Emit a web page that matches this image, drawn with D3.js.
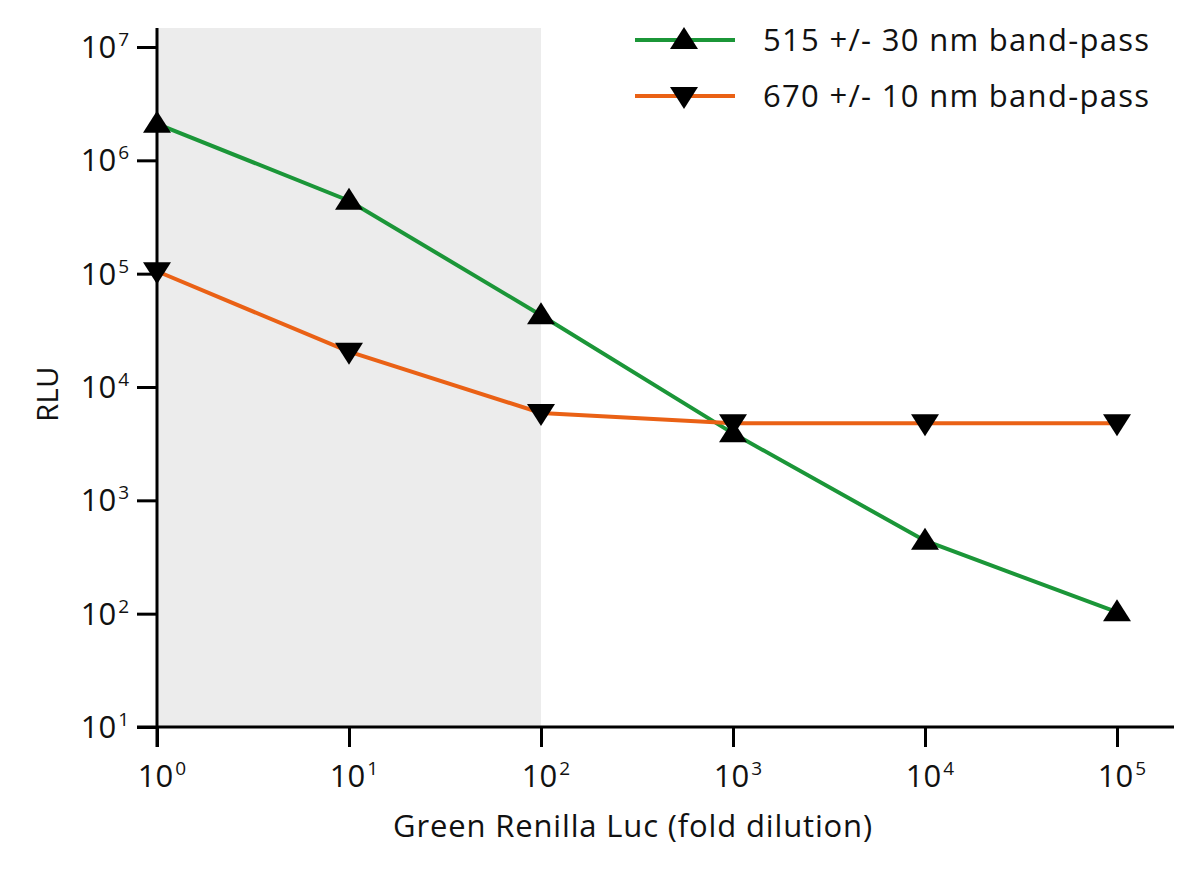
<!DOCTYPE html>
<html><head><meta charset="utf-8">
<script src="https://cdn.jsdelivr.net/npm/d3@7"></script>
<style>body{margin:0;background:#fff}svg{display:block}text{font-family:"Open Sans",Lato,sans-serif;fill:#111}</style>
</head><body>
<svg id="c" width="1200" height="871"></svg>
<script>
const dilution = [1, 10, 100, 1000, 10000, 100000];
const green515 = [2.1e6, 4.4e5, 4.3e4, 3.9e3, 4.4e2, 1.03e2];
const orange670 = [1.05e5, 2.05e4, 5.9e3, 4.8e3, 4.8e3, 4.8e3];
const xTickExp = [0, 1, 2, 3, 4, 5];
const yTickExp = [1, 2, 3, 4, 5, 6, 7];
const seriesNames = ["515 +/- 30 nm band-pass", "670 +/- 10 nm band-pass"];
const shadedRange = [1, 100];

const svg = d3.select("#c");
const x = d3.scaleLog().domain([1, 1e5]).range([157, 1117]);
const y = d3.scaleLog().domain([10, 1e7]).range([727, 47]);
const plotTop = 28, xEnd = 1174;

// shaded region
svg.append("rect").attr("x", x(shadedRange[0])).attr("y", plotTop)
  .attr("width", x(shadedRange[1]) - x(shadedRange[0])).attr("height", y(10) - plotTop)
  .attr("fill", "#ececec");

// axes
const gy = svg.append("g").attr("transform", `translate(${x(1)},0)`)
  .call(d3.axisLeft(y).tickValues(yTickExp.map(e => Math.pow(10, e))).tickSize(20).tickSizeOuter(0).tickFormat(""));
gy.select(".domain").remove();
gy.selectAll(".tick line").attr("stroke", "#000").attr("stroke-width", 3);
svg.append("line").attr("x1", x(1)).attr("x2", x(1)).attr("y1", plotTop).attr("y2", y(10) + 20)
  .attr("stroke", "#000").attr("stroke-width", 3);

const gx = svg.append("g").attr("transform", `translate(0,${y(10)})`)
  .call(d3.axisBottom(x).tickValues(xTickExp.map(e => Math.pow(10, e))).tickSize(20).tickSizeOuter(0).tickFormat(""));
gx.select(".domain").remove();
gx.selectAll(".tick line").attr("stroke", "#000").attr("stroke-width", 3);
svg.append("line").attr("x1", x(1) - 20).attr("x2", xEnd).attr("y1", y(10)).attr("y2", y(10))
  .attr("stroke", "#000").attr("stroke-width", 3);

// tick labels
function pow(sel, e) {
  sel.append("tspan").text("10");
  sel.append("tspan").attr("font-size", 19).attr("dx", 2).attr("dy", -12).text(e);
}
yTickExp.forEach(e => {
  const t = svg.append("text").attr("x", 129).attr("y", y(Math.pow(10, e)) + 11)
    .attr("text-anchor", "end").attr("font-size", 31);
  pow(t, e);
});
xTickExp.forEach(e => {
  const t = svg.append("text").attr("x", x(Math.pow(10, e)) + 5).attr("y", 787)
    .attr("text-anchor", "middle").attr("font-size", 31);
  pow(t, e);
});

// axis titles
svg.append("text").attr("x", 633).attr("y", 837).attr("text-anchor", "middle")
  .attr("font-size", 31).attr("letter-spacing", 0.85).text("Green Renilla Luc (fold dilution)");
svg.append("text").attr("transform", "translate(58,394) rotate(-90)").attr("text-anchor", "middle")
  .attr("font-size", 29).attr("letter-spacing", 0.5).text("RLU");

// series
const colors = ["#1b9638", "#ea6115"];
const data = [green515, orange670];
const tri = (up) => up ? "M0,-13L14,9L-14,9Z" : "M0,13L14,-9L-14,-9Z";
const line = d3.line().x(d => x(d[0])).y(d => y(d[1]));
data.forEach((vals, i) => {
  const pts = dilution.map((d, j) => [d, vals[j]]);
  svg.append("path").datum(pts).attr("d", line).attr("fill", "none")
    .attr("stroke", colors[i]).attr("stroke-width", 4);
});
data.forEach((vals, i) => {
  svg.selectAll(null).data(dilution.map((d, j) => [d, vals[j]])).enter().append("path")
    .attr("d", tri(i === 0)).attr("transform", d => `translate(${x(d[0])},${y(d[1])})`)
    .attr("fill", "#000");
});

// legend
seriesNames.forEach((name, i) => {
  const ly = 40 + i * 56;
  svg.append("line").attr("x1", 635).attr("x2", 735).attr("y1", ly).attr("y2", ly)
    .attr("stroke", colors[i]).attr("stroke-width", 4);
  svg.append("path").attr("d", tri(i === 0)).attr("transform", `translate(684,${ly})`).attr("fill", "#000");
  svg.append("text").attr("x", 763).attr("y", ly + 11).attr("font-size", 31)
    .attr("letter-spacing", 1.3).text(name);
});
</script>
</body></html>
